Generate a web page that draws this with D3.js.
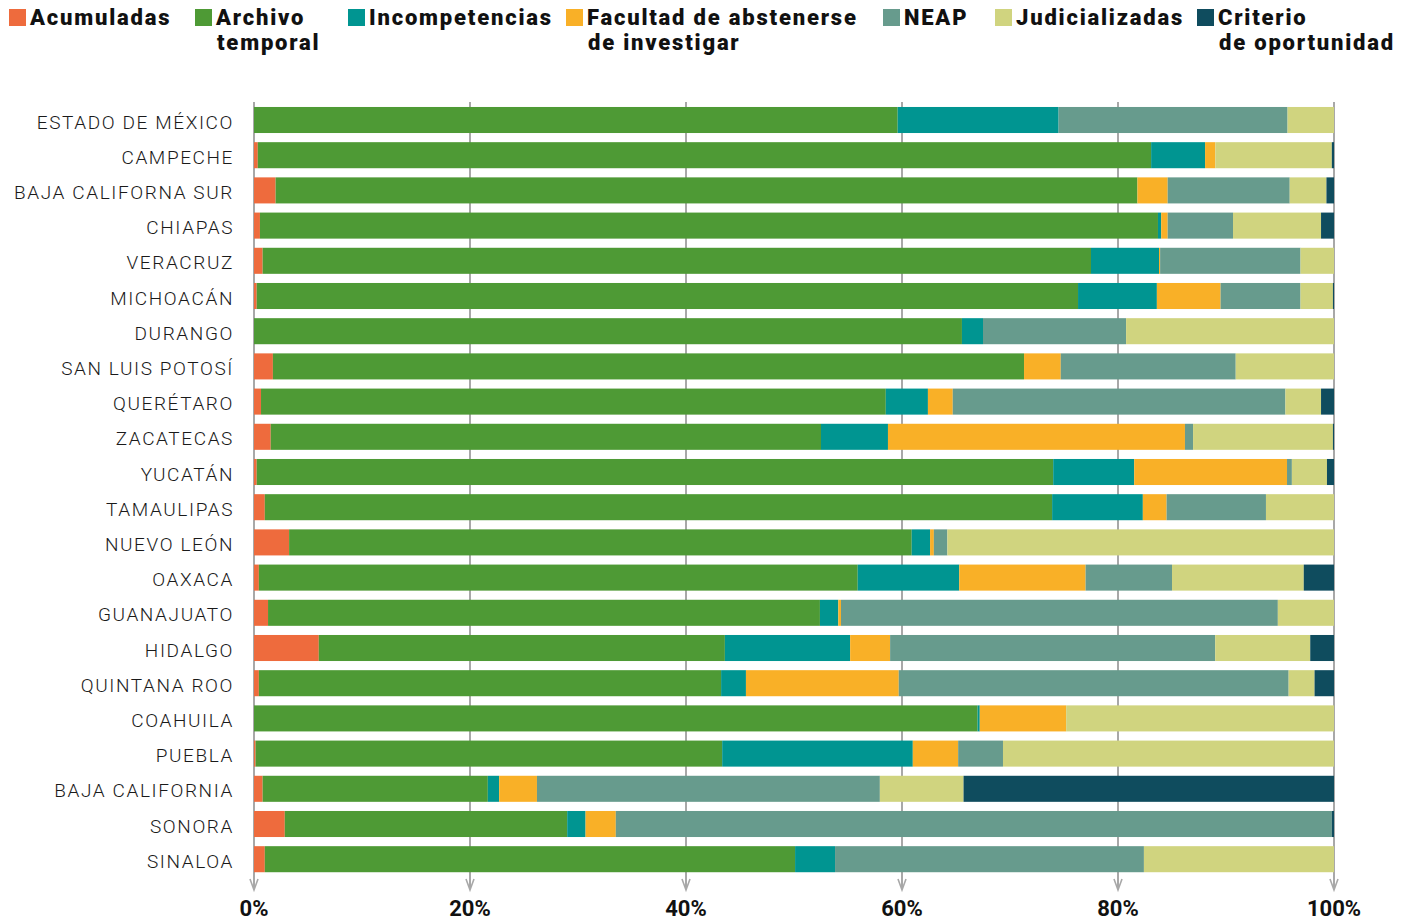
<!DOCTYPE html>
<html>
<head>
<meta charset="utf-8">
<script src="https://cdn.jsdelivr.net/npm/d3@7"></script>
<style>
    body { margin: 0; background: #fff; }
    .state-label { font-family: Roboto, sans-serif; font-weight: 300; font-size: 19px; letter-spacing: 1.6px; fill: #1a1a1a; }
    .legend-label { font-family: Roboto, sans-serif; font-weight: 900; font-size: 22px; letter-spacing: 1.8px; fill: #111; }
    .tick-label { font-family: "Liberation Sans Narrow", Roboto, sans-serif; font-weight: 700; font-size: 22px; fill: #111; }
</style>
</head>
<body>
<svg width="1405" height="923"></svg>
<script>
// states, top to bottom
const states = ['ESTADO DE MÉXICO', 'CAMPECHE', 'BAJA CALIFORNA SUR', 'CHIAPAS', 'VERACRUZ', 'MICHOACÁN',
    'DURANGO', 'SAN LUIS POTOSÍ', 'QUERÉTARO', 'ZACATECAS', 'YUCATÁN', 'TAMAULIPAS', 'NUEVO LEÓN',
    'OAXACA', 'GUANAJUATO', 'HIDALGO', 'QUINTANA ROO', 'COAHUILA', 'PUEBLA', 'BAJA CALIFORNIA',
    'SONORA', 'SINALOA'];

// shares in %
const acumuladas = [0, 0.35, 2.0, 0.55, 0.8, 0.25, 0, 1.75, 0.65, 1.55, 0.25, 1.0, 3.25, 0.45, 1.3, 6.0, 0.45, 0, 0.15, 0.8, 2.85, 1.0];
const archivoTemporal = [59.6, 82.8, 79.8, 83.15, 76.7, 76.05, 65.55, 69.55, 57.85, 50.95, 73.75, 72.9, 57.65, 55.45, 51.1, 37.6, 42.8, 67.0, 43.2, 20.85, 26.15, 49.1];
const incompetencias = [14.9, 5.0, 0, 0.3, 6.3, 7.3, 1.95, 0, 3.9, 6.2, 7.5, 8.4, 1.7, 9.4, 1.7, 11.6, 2.3, 0.2, 17.65, 1.05, 1.7, 3.7];
const facultad = [0, 0.95, 2.8, 0.6, 0.1, 5.9, 0, 3.4, 2.3, 27.5, 14.15, 2.2, 0.35, 11.7, 0.25, 3.7, 14.15, 8.0, 4.2, 3.5, 2.8, 0];
const neap = [21.2, 0, 11.3, 6.05, 13.0, 7.4, 13.25, 16.2, 30.8, 0.75, 0.45, 9.2, 1.25, 8.0, 40.45, 30.1, 36.1, 0, 4.15, 31.75, 66.3, 28.6];
const judicializadas = [4.3, 10.8, 3.4, 8.15, 3.1, 3.0, 19.25, 9.1, 3.3, 12.95, 3.25, 6.3, 35.8, 12.2, 5.2, 8.8, 2.4, 24.8, 30.65, 7.75, 0, 17.6];
const criterio = [0, 0.2, 0.7, 1.2, 0, 0.1, 0, 0, 1.2, 0.1, 0.65, 0, 0, 2.8, 0, 2.2, 1.8, 0, 0, 34.3, 0.2, 0];

const seriesKeys = ['acumuladas', 'archivo', 'incompetencias', 'facultad', 'neap', 'judicializadas', 'criterio'];
const seriesLabels = [['Acumuladas'], ['Archivo', 'temporal'], ['Incompetencias'], ['Facultad de abstenerse', 'de investigar'],
    ['NEAP'], ['Judicializadas'], ['Criterio', 'de oportunidad']];
const seriesColors = ['#ee6b3d', '#4e9a35', '#009591', '#f9b027', '#679b8d', '#d0d47f', '#0f4c5e'];
const tickValues = [0, 0.2, 0.4, 0.6, 0.8, 1];

const svg = d3.select('svg');

const data = states.map((s, i) => ({
    state: s,
    acumuladas: acumuladas[i],
    archivo: archivoTemporal[i],
    incompetencias: incompetencias[i],
    facultad: facultad[i],
    neap: neap[i],
    judicializadas: judicializadas[i],
    criterio: criterio[i]
}));

const xScale = d3.scaleLinear().domain([0, 1]).range([254, 1334]);
const yScale = d3.scaleBand().domain(states).range([102.4, 876.8])
    .paddingInner(0.26).paddingOuter(0.13);
const color = d3.scaleOrdinal().domain(seriesKeys).range(seriesColors);

//grid lines with arrow heads at the bottom
const grid = svg.append('g');
grid.selectAll('line').data(tickValues)
    .enter().append('line')
    .attr('x1', d => xScale(d)).attr('x2', d => xScale(d))
    .attr('y1', 102).attr('y2', 889)
    .attr('stroke', '#a8a8a8').attr('stroke-width', 2);
grid.selectAll('path').data(tickValues)
    .enter().append('path')
    .attr('d', d => `M${xScale(d) - 4},${879} L${xScale(d)},${890} L${xScale(d) + 4},${879}`)
    .attr('fill', 'none').attr('stroke', '#a8a8a8').attr('stroke-width', 1.6);

//stacked bars
const stacked = d3.stack().keys(seriesKeys).offset(d3.stackOffsetExpand)(data);

svg.append('g').selectAll('g').data(stacked)
    .enter().append('g')
    .attr('fill', d => color(d.key))
    .selectAll('rect').data(d => d)
    .enter().append('rect')
    .attr('x', d => xScale(d[0]))
    .attr('y', d => yScale(d.data.state))
    .attr('width', d => xScale(d[1]) - xScale(d[0]))
    .attr('height', yScale.bandwidth());

//state labels
svg.append('g').selectAll('text').data(states)
    .enter().append('text')
    .attr('class', 'state-label')
    .attr('x', 234)
    .attr('y', d => yScale(d) + yScale.bandwidth() / 2)
    .attr('dy', '0.45em')
    .attr('text-anchor', 'end')
    .text(d => d);

//tick labels
svg.append('g').selectAll('text').data(tickValues)
    .enter().append('text')
    .attr('class', 'tick-label')
    .attr('x', d => xScale(d))
    .attr('y', 916)
    .attr('text-anchor', 'middle')
    .text(d3.format('.0%'));

//legend
const legendX = [9, 195, 348, 566, 883, 995, 1197];
const legend = svg.append('g').selectAll('g').data(seriesKeys)
    .enter().append('g')
    .attr('transform', (d, i) => `translate(${legendX[i]},0)`);

legend.append('rect')
    .attr('y', 9).attr('width', 17).attr('height', 17)
    .attr('fill', d => color(d));

legend.append('text')
    .attr('class', 'legend-label')
    .selectAll('tspan').data((d, i) => seriesLabels[i])
    .enter().append('tspan')
    .attr('x', (d, i) => i === 0 ? 21 : 22)
    .attr('y', (d, i) => 25 + i * 25)
    .text(d => d);
</script>
</body>
</html>
